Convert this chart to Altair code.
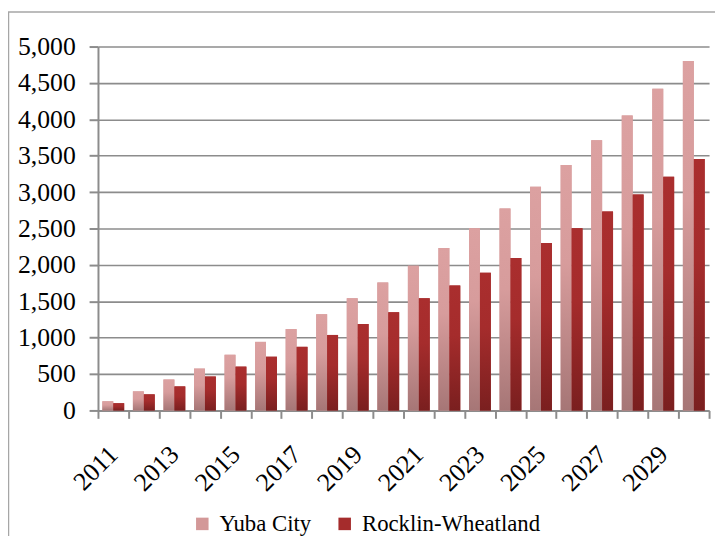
import altair as alt
import pandas as pd

years = list(range(2011, 2031))
series_names = ["Yuba City", "Rocklin-Wheatland"]
yuba_city = [126, 262, 425, 575, 765, 942, 1118, 1322, 1540, 1757,
             1988, 2233, 2504, 2776, 3075, 3373, 3713, 4053, 4420, 4800]
rocklin_wheatland = [99, 221, 330, 466, 602, 738, 874, 1037, 1186, 1349,
                     1540, 1717, 1892, 2096, 2300, 2504, 2735, 2966, 3211, 3455]
y_ticks = list(range(0, 5001, 500))

rows = []
for i, yr in enumerate(years):
    rows.append({"year": str(yr), "series": series_names[0], "value": yuba_city[i]})
    rows.append({"year": str(yr), "series": series_names[1], "value": rocklin_wheatland[i]})
df = pd.DataFrame(rows)

FONT = "'Liberation Serif', 'Times New Roman', 'DejaVu Serif', serif"
GRID = "#8c8c8c"

x_enc = alt.X(
    "year:O",
    scale=alt.Scale(paddingInner=0, paddingOuter=0),
    axis=alt.Axis(
        title=None,
        labelAngle=315,
        labelAlign="right",
        labelBaseline="middle",
        labelPadding=32,
        labelFont=FONT,
        labelFontSize=26,
        labelColor="#000000",
        labelExpr="toNumber(datum.value) % 2 == 1 ? datum.label : ''",
        domainColor=GRID,
        domainWidth=2,
        tickColor=GRID,
        tickWidth=2,
        tickSize=8,
        tickBand="extent",
        grid=False,
    ),
)
xoff_enc = alt.XOffset(
    "series:N",
    sort=series_names,
    scale=alt.Scale(domain=series_names, paddingInner=0, paddingOuter=0.4),
)
y_enc = alt.Y(
    "value:Q",
    scale=alt.Scale(domain=[0, 5000], nice=False),
    axis=alt.Axis(
        title=None,
        values=y_ticks,
        format=",.0f",
        labelFont=FONT,
        labelFontSize=26,
        labelColor="#000000",
        labelPadding=14,
        domainColor=GRID,
        domainWidth=2,
        tickColor=GRID,
        tickWidth=2,
        tickSize=9,
        grid=True,
        gridColor=GRID,
        gridWidth=1.6,
    ),
)

base = alt.Chart(df)

legend_layer = base.mark_bar().encode(
    x=x_enc,
    xOffset=xoff_enc,
    y=y_enc,
    color=alt.Color(
        "series:N",
        sort=series_names,
        scale=alt.Scale(domain=series_names, range=["#D39898", "#A52C2C"]),
        legend=alt.Legend(
            title=None,
            orient="none",
            direction="horizontal",
            legendX=94,
            legendY=471,
            padding=0,
            symbolType="square",
            symbolSize=160,
            symbolStrokeWidth=0,
            labelFont=FONT,
            labelFontSize=23,
            labelColor="#000000",
            labelOffset=6,
            labelLimit=400,
            columnPadding=22,
        ),
    ),
)

yuba_grad = alt.Gradient(
    gradient="linear", x1=0, y1=0, x2=0, y2=1,
    stops=[
        alt.GradientStop(offset=0, color="#DCA1A1"),
        alt.GradientStop(offset=0.4, color="#D79C9C"),
        alt.GradientStop(offset=1, color="#A67676"),
    ],
)
rock_grad = alt.Gradient(
    gradient="linear", x1=0, y1=0, x2=0, y2=1,
    stops=[
        alt.GradientStop(offset=0, color="#AA2E2E"),
        alt.GradientStop(offset=0.4, color="#A52C2C"),
        alt.GradientStop(offset=1, color="#7A1F1F"),
    ],
)

yuba_layer = base.mark_bar(color=yuba_grad).encode(
    x=x_enc, xOffset=xoff_enc, y=y_enc
).transform_filter(alt.datum.series == series_names[0])

rock_layer = base.mark_bar(color=rock_grad).encode(
    x=x_enc, xOffset=xoff_enc, y=y_enc
).transform_filter(alt.datum.series == series_names[1])

frame = alt.Chart(alt.Data(values=[{"k": 1}])).mark_rect(
    fill="transparent", stroke="#A6A6A6", strokeWidth=1.5
).encode(
    x=alt.value(-90.5), x2=alt.value(700), y=alt.value(-35), y2=alt.value(600)
)

chart = alt.layer(legend_layer, yuba_layer, rock_layer, frame).properties(
    width=618,
    height=368,
    padding={"left": 91, "top": 36, "right": 6, "bottom": 124},
    autosize=alt.AutoSizeParams(type="none"),
).configure_view(strokeWidth=0)

chart.save("out.html", embed_options={"renderer": "svg", "actions": False})
